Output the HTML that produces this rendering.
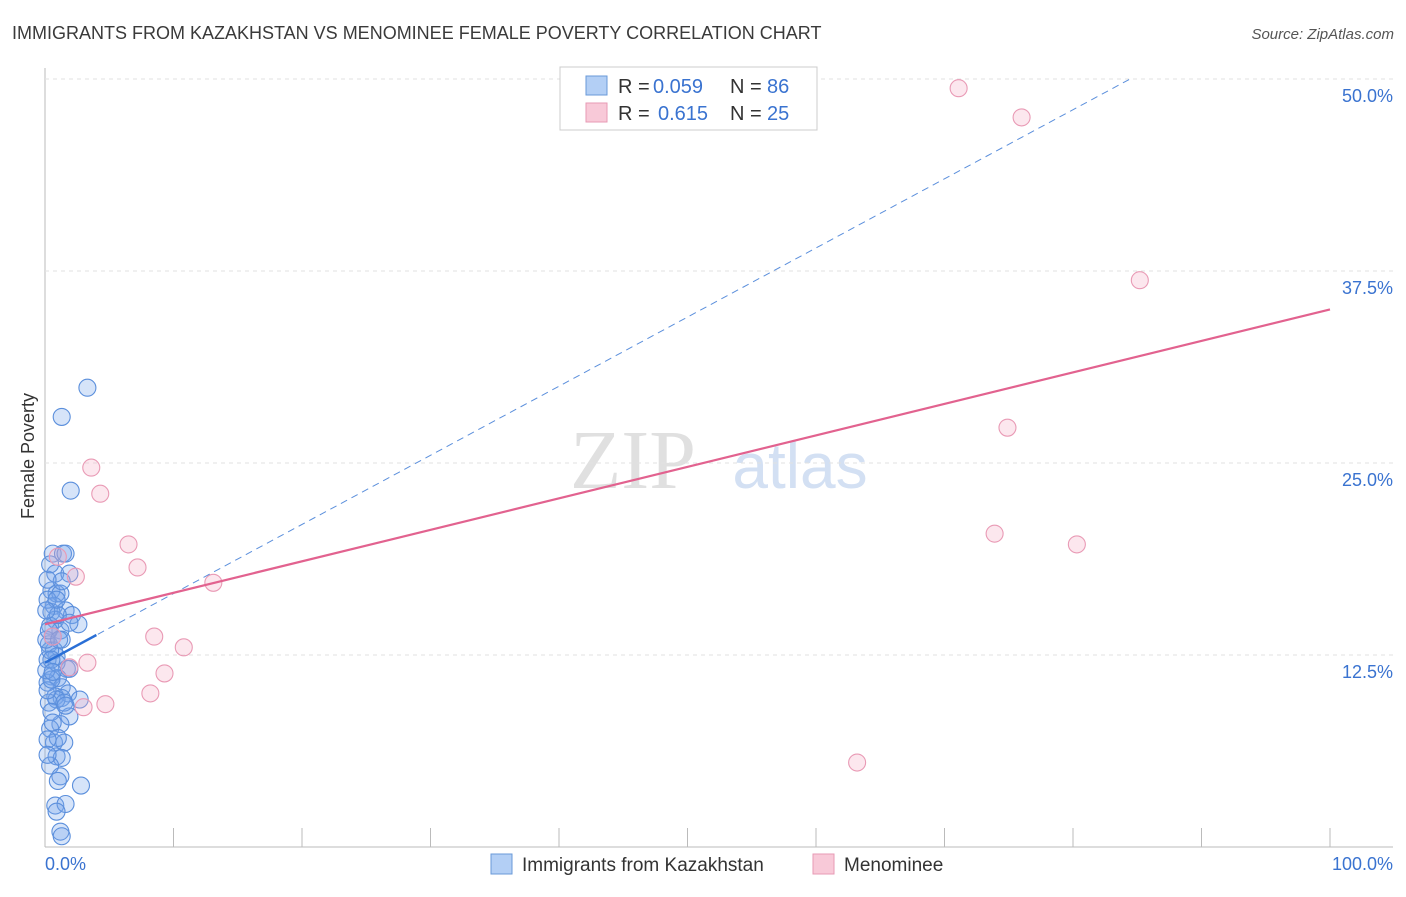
<!DOCTYPE html>
<html><head><meta charset="utf-8"><style>
body{margin:0;background:#fff;font-family:"Liberation Sans",sans-serif}
</style></head><body>
<svg id="c" width="1406" height="892" xmlns="http://www.w3.org/2000/svg">
<text x="12" y="39" font-size="18" fill="#3a3a3a">IMMIGRANTS FROM KAZAKHSTAN VS MENOMINEE FEMALE POVERTY CORRELATION CHART</text>
<text x="1394" y="39" font-size="15" fill="#555" text-anchor="end" font-style="italic">Source: ZipAtlas.com</text>
<text x="34" y="456" font-size="18" fill="#333" text-anchor="middle" transform="rotate(-90 34 456)">Female Poverty</text>
<g><text x="633" y="488" font-size="84" fill="#e0e0e0" text-anchor="middle" font-family="Liberation Serif,serif">ZIP</text><text x="800" y="488" font-size="64" fill="#d3e0f3" text-anchor="middle">atlas</text></g>
<g id="grid"></g><g id="marks"></g>
<g>
<rect x="560" y="67" width="257" height="63" fill="#fff" stroke="#ccc"/>
<rect x="586" y="76" width="21" height="19" fill="#b3cff5" stroke="#6a9ad8"/>
<rect x="586" y="103" width="21" height="19" fill="#f8c9d8" stroke="#e79ab4"/>
<text x="618" y="93" font-size="20" fill="#333">R =</text><text x="653" y="93" font-size="20" fill="#3a73d0">0.059</text>
<text x="730" y="93" font-size="20" fill="#333">N =</text><text x="767" y="93" font-size="20" fill="#3a73d0">86</text>
<text x="618" y="120" font-size="20" fill="#333">R =</text><text x="658" y="120" font-size="20" fill="#3a73d0">0.615</text>
<text x="730" y="120" font-size="20" fill="#333">N =</text><text x="767" y="120" font-size="20" fill="#3a73d0">25</text>
</g>
<g>
<rect x="491" y="854" width="21" height="20" fill="#b3cff5" stroke="#6a9ad8"/>
<text x="522" y="871" font-size="19" fill="#333">Immigrants from Kazakhstan</text>
<rect x="813" y="854" width="21" height="20" fill="#f8c9d8" stroke="#e79ab4"/>
<text x="844" y="871" font-size="19" fill="#333">Menominee</text>
</g>
</svg>
<script>
const yTicks=[12.5,25,37.5,50];
const yTickLabels=["12.5%","25.0%","37.5%","50.0%"];
const xTickLabels=["0.0%","100.0%"];
const blueX=[3.3,1.3,2.0,0.6,1.4,1.6,0.8,1.9,0.5,0.9,1.2,0.7,1.6,2.1,0.5,0.8,2.6,0.4,1.2,0.6,1.3,0.3,0.7,0.9,0.2,1.7,1.9,0.5,1.0,0.2,1.3,1.8,0.8,2.7,1.3,0.9,0.3,1.9,1.2,0.4,0.7,1.5,1.0,0.9,1.3,0.4,1.2,1.0,2.8,0.8,1.6,0.9,1.2,1.3,0.2,0.5,0.1,0.4,1.0,0.2,1.3,0.2,1.9,0.1,0.9,1.5,0.5,0.2,0.6,0.3,0.5,1.1,0.9,0.4,0.1,0.6,1.6,0.2];
const blueY=[29.9,28.0,23.2,19.1,19.1,19.1,17.8,17.8,16.7,16.5,16.5,15.7,15.4,15.1,15.3,14.8,14.5,14.4,14.1,13.7,13.5,13.2,12.8,12.4,12.2,11.6,11.6,11.1,11.0,10.7,10.4,10.0,9.8,9.6,9.7,9.6,9.4,8.5,8.0,7.7,6.8,6.8,7.1,5.9,5.8,5.3,4.6,4.3,4.0,2.7,2.8,2.3,1.0,0.7,10.2,10.9,11.5,12.8,15.1,16.1,17.3,17.4,14.6,13.5,12.0,9.4,8.8,7.0,8.1,14.1,12.2,13.5,16.1,18.4,15.4,11.4,9.2,6.0];
const pinkX=[71.1,76.0,85.2,74.9,73.9,80.3,63.2,3.6,4.3,6.5,7.2,13.1,2.4,1.0,8.5,10.8,3.3,9.3,8.2,3.0,4.7,1.9,0.6];
const pinkY=[49.4,47.5,36.9,27.3,20.4,19.7,5.5,24.7,23.0,19.7,18.2,17.2,17.6,18.9,13.7,13.0,12.0,11.3,10.0,9.1,9.3,11.7,13.7];
const blueTrend=[12.0,0.45], pinkTrend=[14.5,0.205];
const X=v=>45+v*12.85, Y=v=>847-v*15.36;
const NS="http://www.w3.org/2000/svg";
function mk(t,a,p){const e=document.createElementNS(NS,t);for(const k in a)e.setAttribute(k,a[k]);p.appendChild(e);return e;}
const g=document.getElementById('grid'), m=document.getElementById('marks');
let e=mk('line',{x1:45,y1:68,x2:45,y2:847,stroke:'#bbb'},g);

e=mk('line',{x1:45,y1:847,x2:1393,y2:847,stroke:'#bbb'},g);

yTicks.forEach((t,i)=>{
 e=mk('line',{x1:45,y1:Y(t),x2:1393,y2:Y(t),stroke:'#e2e2e2','stroke-dasharray':'4 4'},g);
 
 e=mk('text',{x:1393,y:Y(t)+23,'font-size':18,fill:'#3a73d0','text-anchor':'end'},g);e.textContent=yTickLabels[i];
 
});
for(let k=1;k<=10;k++){e=mk('line',{x1:X(k*10),y1:828,x2:X(k*10),y2:847,stroke:'#bbb'},g);
 }
e=mk('text',{x:45,y:870,'font-size':18,fill:'#3a73d0'},g);e.textContent=xTickLabels[0];

e=mk('text',{x:1393,y:870,'font-size':18,fill:'#3a73d0','text-anchor':'end'},g);e.textContent=xTickLabels[1];

blueX.forEach((x,i)=>{e=mk('circle',{cx:X(x),cy:Y(blueY[i]),r:8.5,fill:'rgba(120,165,235,0.3)',stroke:'#5b8fdc','stroke-width':1.1},m);
 });
pinkX.forEach((x,i)=>{e=mk('circle',{cx:X(x),cy:Y(pinkY[i]),r:8.5,fill:'rgba(245,175,200,0.3)',stroke:'#e99ab5','stroke-width':1.1},m);
 });
const bx2=(50-blueTrend[0])/blueTrend[1];
e=mk('line',{x1:X(0),y1:Y(blueTrend[0]),x2:X(bx2),y2:Y(50),stroke:'#5b8fdc','stroke-width':1,'stroke-dasharray':'7 5'},m);

e=mk('line',{x1:X(0),y1:Y(blueTrend[0]),x2:X(4),y2:Y(blueTrend[0]+4*blueTrend[1]),stroke:'#2a6fd6','stroke-width':2.5},m);

e=mk('line',{x1:X(0),y1:Y(pinkTrend[0]),x2:X(100),y2:Y(pinkTrend[0]+100*pinkTrend[1]),stroke:'#e2628f','stroke-width':2.2},m);

</script>
</body></html>
